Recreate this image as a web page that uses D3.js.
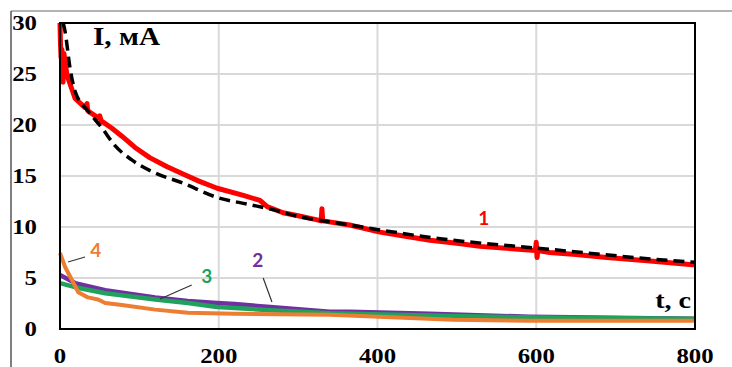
<!DOCTYPE html>
<html>
<head>
<meta charset="utf-8">
<script src="https://cdn.jsdelivr.net/npm/d3@7"></script>
<style>
  body { margin: 0; background: #fff; }
  svg { display: block; }
</style>
</head>
<body>
<div id="chart"></div>
<script>
// Data: time t (c) and current I (mA)
const curve1T = [0, 0.6, 1.3, 2.5, 3.8, 5, 8.8, 19, 31.5, 34, 35, 48, 50, 52, 65, 78, 94.5, 113, 135, 155, 175, 198, 231, 252, 261, 281, 300, 324, 329, 330, 331, 365, 403, 435, 466, 500, 529, 599, 600, 601, 602, 617, 650, 689, 740, 797, 800];
const curve1I = [30, 28, 26.6, 27.4, 24.2, 27, 24.9, 22.6, 21.7, 22.1, 21.4, 20.7, 20.9, 20.4, 19.7, 18.9, 17.8, 16.8, 15.9, 15.2, 14.5, 13.8, 13.1, 12.6, 12.0, 11.4, 11.1, 10.7, 10.6, 11.8, 10.6, 10.2, 9.5, 9.1, 8.7, 8.4, 8.1, 7.7, 8.5, 7.0, 7.7, 7.5, 7.3, 7.0, 6.7, 6.3, 6.3];

const fitT = [4, 6.3, 12.6, 19, 35, 53, 69, 90, 117, 155, 198, 239, 268, 302, 353, 479, 605, 790, 800];
const fitI = [30, 29.2, 25.6, 23.3, 21.4, 19.7, 18.0, 16.6, 15.4, 14.3, 12.9, 12.2, 11.7, 11.0, 10.35, 8.85, 7.9, 6.6, 6.55];

const curve2T = [0, 19, 57, 120, 161, 198, 220, 265, 340, 365, 466, 592, 797, 800];
const curve2I = [5.3, 4.5, 3.8, 3.1, 2.75, 2.55, 2.45, 2.15, 1.7, 1.7, 1.5, 1.2, 1.0, 1.0];

const curve3T = [0, 19, 57, 120, 161, 198, 220, 265, 340, 365, 508, 634, 797, 800];
const curve3I = [4.5, 4.1, 3.5, 2.9, 2.55, 2.15, 2.05, 1.85, 1.55, 1.5, 1.25, 1.1, 1.0, 1.0];

const curve4T = [0, 6.3, 15, 23, 35, 48, 57, 78, 120, 161, 220, 340, 495, 592, 797, 800];
const curve4I = [7.45, 6.1, 4.8, 3.6, 3.1, 2.9, 2.55, 2.35, 1.9, 1.6, 1.5, 1.4, 0.9, 0.8, 0.8, 0.8];

const xTicks = [0, 200, 400, 600, 800];
const yTicks = [0, 5, 10, 15, 20, 25, 30];

// Curve labels and leader lines (data units)
const labelNames = ["1", "2", "3", "4"];
const labelColors = ["#ff0000", "#7030a0", "#1fa35c", "#ed7d31"];
const labelT = [534, 249, 185, 45];
const labelI = [10.2, 6.08, 4.5, 7.06];
const leaders = [
  [[256, 5.0], [267, 2.65]],
  [[126, 2.94], [166, 4.31]],
  [[10, 6.57], [31.5, 7.06]]
];

const width = 732, height = 367;
const margin = { left: 60, right: 37, top: 23, bottom: 38 };

const svg = d3.select("#chart").append("svg")
    .attr("width", width)
    .attr("height", height);

const x = d3.scaleLinear().domain([0, 800]).range([margin.left, width - margin.right]);
const y = d3.scaleLinear().domain([0, 30]).range([height - margin.bottom, margin.top]);

// outer frame pieces
svg.append("line").attr("x1", 11).attr("x2", width).attr("y1", 11).attr("y2", 11)
    .attr("stroke", "#9a9a9a").attr("stroke-width", 1.5);
svg.append("line").attr("x1", 11).attr("x2", 11).attr("y1", 11).attr("y2", height)
    .attr("stroke", "#555").attr("stroke-width", 1.5);

// grid
svg.append("g").selectAll("line").data(xTicks.slice(1, -1)).enter().append("line")
    .attr("x1", d => x(d)).attr("x2", d => x(d))
    .attr("y1", y(0)).attr("y2", y(30))
    .attr("stroke", "#d9d9d9").attr("stroke-width", 2);
svg.append("g").selectAll("line").data(yTicks.slice(1, -1)).enter().append("line")
    .attr("x1", x(0)).attr("x2", x(800))
    .attr("y1", d => y(d)).attr("y2", d => y(d))
    .attr("stroke", "#d9d9d9").attr("stroke-width", 2);

// tick labels (bold serif, stretched a bit wide like the source)
svg.append("g").selectAll("text").data(yTicks).enter().append("text")
    .attr("transform", d => `translate(37,${y(d) + 7}) scale(1.18,1)`)
    .attr("text-anchor", "end")
    .style("font", "bold 21px 'Liberation Serif', serif")
    .text(d => d);
svg.append("g").selectAll("text").data(xTicks).enter().append("text")
    .attr("transform", d => `translate(${x(d)},363) scale(1.18,1)`)
    .attr("text-anchor", "middle")
    .style("font", "bold 21px 'Liberation Serif', serif")
    .text(d => d);

// axis titles
svg.append("text")
    .attr("transform", "translate(93,45) scale(1.17,1)")
    .style("font", "bold 25px 'Liberation Serif', serif")
    .text("I, мА");
svg.append("text")
    .attr("transform", "translate(691,308) scale(1.17,1)")
    .attr("text-anchor", "end")
    .style("font", "bold 24px 'Liberation Serif', serif")
    .text("t, c");

const line = d3.line().x(d => x(d[0])).y(d => y(d[1]));
const pair = (ts, is) => ts.map((t, i) => [t, is[i]]);

const plot = svg.append("g");
plot.append("path").datum(pair(curve2T, curve2I))
    .attr("d", line).attr("fill", "none")
    .attr("stroke", "#7030a0").attr("stroke-width", 4.5).attr("stroke-linejoin", "round");
plot.append("path").datum(pair(curve3T, curve3I))
    .attr("d", line).attr("fill", "none")
    .attr("stroke", "#1fa35c").attr("stroke-width", 4.5).attr("stroke-linejoin", "round");
plot.append("path").datum(pair(curve4T, curve4I))
    .attr("d", line).attr("fill", "none")
    .attr("stroke", "#ed7d31").attr("stroke-width", 4).attr("stroke-linejoin", "round");
plot.append("path").datum(pair(curve1T, curve1I))
    .attr("d", line).attr("fill", "none")
    .attr("stroke", "#ff0000").attr("stroke-width", 5).attr("stroke-linejoin", "round");
plot.append("path").datum(pair(fitT, fitI))
    .attr("d", line.curve(d3.curveMonotoneX)).attr("fill", "none")
    .attr("stroke", "#000").attr("stroke-width", 3.5).attr("stroke-dasharray", "11,6");

// plot border
svg.append("rect")
    .attr("x", x(0)).attr("y", y(30))
    .attr("width", x(800) - x(0)).attr("height", y(0) - y(30))
    .attr("fill", "none").attr("stroke", "#000").attr("stroke-width", 2);

// leader lines and curve numbers
svg.append("g").selectAll("line").data(leaders).enter().append("line")
    .attr("x1", d => x(d[0][0])).attr("y1", d => y(d[0][1]))
    .attr("x2", d => x(d[1][0])).attr("y2", d => y(d[1][1]))
    .attr("stroke", "#333").attr("stroke-width", 1.2);
svg.append("g").selectAll("text").data(labelNames).enter().append("text")
    .attr("x", (d, i) => x(labelT[i]))
    .attr("y", (d, i) => y(labelI[i]))
    .attr("text-anchor", "middle")
    .attr("fill", (d, i) => labelColors[i])
    .style("font", "bold 19px Lato, 'Open Sans', sans-serif")
    .text(d => d);
</script>
</body>
</html>
